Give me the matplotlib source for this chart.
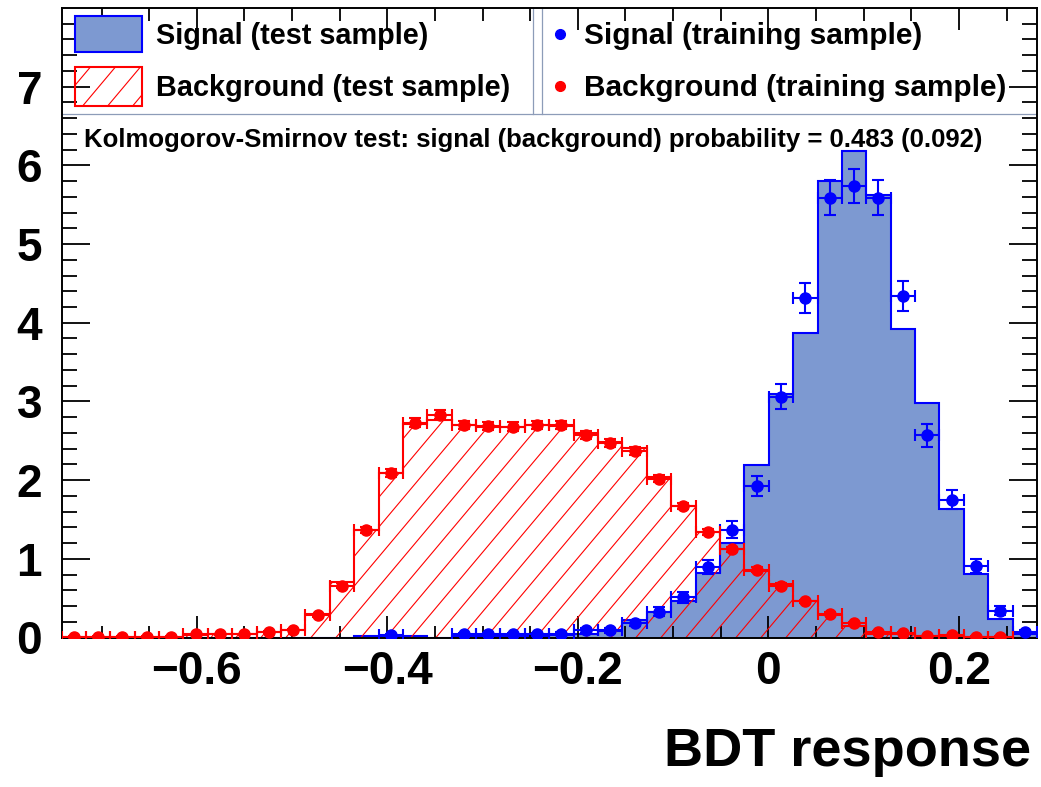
import numpy as np
import matplotlib
matplotlib.use("Agg")
import matplotlib.pyplot as plt
from matplotlib.collections import LineCollection
from matplotlib.patches import Rectangle
from matplotlib.lines import Line2D

plt.rcParams["font.family"] = ["Liberation Sans", "DejaVu Sans"]
plt.rcParams["font.weight"] = "bold"

# binning of the BDT output
xmin, xmax, nbins = -0.742, 0.282, 40

sig_test = [0, 0, 0, 0, 0, 0, 0, 0, 0, 0,
            0, 0, 0.02, 0.02, 0.02, 0, 0.02, 0.02, 0.02, 0.02,
            0.03, 0.05, 0.08, 0.22, 0.33, 0.47, 0.82, 1.20, 2.19, 3.10,
            3.87, 5.80, 6.18, 5.62, 3.92, 2.98, 1.63, 0.81, 0.23, 0.05]
sig_train = [np.nan] * 13 + [0.03, np.nan, np.nan, 0.04, 0.04, 0.04, 0.04,
             0.05, 0.09, 0.09, 0.18, 0.33, 0.51, 0.90, 1.37, 1.93, 3.06,
             4.31, 5.59, 5.74, 5.59, 4.34, 2.57, 1.75, 0.91, 0.34, 0.07]
sig_train_err = [0] * 13 + [0.016, 0, 0, 0.018, 0.018, 0.018, 0.018,
                 0.02, 0.028, 0.028, 0.04, 0.053, 0.066, 0.087, 0.108, 0.128, 0.161,
                 0.19, 0.218, 0.22, 0.218, 0.19, 0.147, 0.122, 0.088, 0.054, 0.024]

bkg_test = [0.01, 0.01, 0.01, 0.01, 0.01, 0.03, 0.04, 0.04, 0.07, 0.10,
            0.30, 0.70, 1.36, 2.09, 2.71, 2.77, 2.70, 2.68, 2.68, 2.70,
            2.69, 2.60, 2.49, 2.41, 2.04, 1.67, 1.34, 1.12, 0.85, 0.68,
            0.47, 0.28, 0.14, 0.05, 0.05, 0.02, 0.02, 0.01, 0.01, 0.0]
bkg_train = [0.01, 0.01, 0.01, 0.01, 0.01, 0.04, 0.04, 0.04, 0.07, 0.10,
             0.28, 0.66, 1.36, 2.09, 2.73, 2.83, 2.70, 2.69, 2.68, 2.70,
             2.70, 2.57, 2.47, 2.37, 2.02, 1.67, 1.34, 1.12, 0.86, 0.66,
             0.46, 0.30, 0.18, 0.07, 0.06, 0.02, 0.03, 0.01, 0.01, np.nan]
bkg_train_err = [0.003, 0.003, 0.003, 0.003, 0.003, 0.007, 0.007, 0.007, 0.009, 0.01,
                 0.018, 0.027, 0.038, 0.048, 0.055, 0.056, 0.054, 0.054, 0.054, 0.054,
                 0.054, 0.053, 0.052, 0.051, 0.047, 0.043, 0.038, 0.035, 0.031, 0.027,
                 0.022, 0.018, 0.014, 0.009, 0.008, 0.005, 0.006, 0.003, 0.003, 0]

xticks = [-0.6, -0.4, -0.2, 0.0, 0.2]
xtick_labels = ["\u22120.6", "\u22120.4", "\u22120.2", "0", "0.2"]
yticks = [0, 1, 2, 3, 4, 5, 6, 7]
ks_text = "Kolmogorov-Smirnov test: signal (background) probability = 0.483 (0.092)"

sig_fill = "#7d99d1"
sig_line = "#0000ff"
bkg_line = "#ff0000"
leg_line = "#8d9cb8"

# frame in pixels of the 1041x787 canvas
W, H = 1041, 787
L, R, T, B = 61.5, 1037, 8, 637.5


def axf(px, py):
    return (px - L) / (R - L), (B - py) / (B - T)


def hatch(ax, clip):
    # ROOT style single-direction hatching, ~50 deg, 25 px apart
    slope = 1.19 * (R - L) / (B - T)
    step = 25 / (R - L)
    segs = [[(x, 0), (x + 1 / slope, 1)] for x in np.arange(-1.0, 1.05, step)]
    lc = LineCollection(segs, colors=bkg_line, linewidths=0.8,
                        transform=ax.transAxes, zorder=2)
    ax.add_collection(lc, autolim=False)
    lc.set_clip_path(clip.get_path(), clip.get_transform())


edges = np.linspace(xmin, xmax, nbins + 1)
centers = 0.5 * (edges[:-1] + edges[1:])
halfw = 0.5 * (edges[1] - edges[0])

fig = plt.figure(figsize=(W / 100, H / 100), dpi=100)
ax = fig.add_axes([L / W, 1 - B / H, (R - L) / W, (B - T) / H])

ax.stairs(sig_test, edges, fill=True, facecolor=sig_fill, edgecolor=sig_line,
          linewidth=1.5, zorder=1)
bkg_patch = ax.stairs(bkg_test, edges, fill=True, facecolor="none",
                      edgecolor=bkg_line, linewidth=1.5, zorder=2.5)
hatch(ax, bkg_patch)

eb = dict(fmt="o", ms=8, capsize=4, elinewidth=1.5, capthick=1.5, zorder=3)
ax.errorbar(centers, sig_train, xerr=halfw, yerr=sig_train_err, color=sig_line, **eb)
ax.errorbar(centers, bkg_train, xerr=halfw, yerr=bkg_train_err, color=bkg_line, **eb)

ax.set_xlim(xmin, xmax)
ax.set_ylim(0, 8.0)
ax.set_xticks(xticks)
ax.set_xticklabels(xtick_labels)
ax.set_xticks(np.arange(-0.70, 0.28, 0.05), minor=True)
ax.set_yticks(yticks)
ax.set_yticks(np.arange(0, 8.0, 0.2), minor=True)
ax.tick_params(which="both", direction="in", top=True, right=True, width=1.3,
               labelsize=33)
ax.tick_params(axis="x", which="major", length=16, pad=9)
ax.tick_params(axis="x", which="minor", length=9)
ax.tick_params(axis="y", which="major", length=20, pad=14)
ax.tick_params(axis="y", which="minor", length=11)
for s in ax.spines.values():
    s.set_linewidth(1.4)

fig.text(1031 / W, 1 - 752 / H, "BDT response", ha="right", va="center",
         fontsize=39, fontweight="bold")

# legend boxes
for x in (533, 542):
    ax.add_line(Line2D([axf(x, 0)[0]] * 2, [axf(0, T)[1], axf(0, 114)[1]],
                       color=leg_line, lw=0.9, transform=ax.transAxes))
ax.add_line(Line2D([0, 1], [axf(0, 114)[1]] * 2, color=leg_line, lw=0.9,
                   transform=ax.transAxes))

x0, y0 = axf(75, 52)
x1, y1 = axf(142, 16)
ax.add_patch(Rectangle((x0, y0), x1 - x0, y1 - y0, transform=ax.transAxes,
                       facecolor=sig_fill, edgecolor=sig_line, lw=1.5, zorder=4))
x0, y0 = axf(75, 106)
x1, y1 = axf(142, 67)
box = Rectangle((x0, y0), x1 - x0, y1 - y0, transform=ax.transAxes,
                facecolor="none", edgecolor=bkg_line, lw=1.5, zorder=4)
ax.add_patch(box)
hatch(ax, box)

txt = dict(transform=ax.transAxes, fontweight="bold", va="center",
           ha="left", zorder=5)
ax.text(*axf(156, 36), "Signal (test sample)", fontsize=20.8, **txt)
ax.text(*axf(156, 88), "Background (test sample)", fontsize=20.8, **txt)
ax.plot(*axf(560, 34), "o", ms=7, color=sig_line, transform=ax.transAxes, zorder=5)
ax.plot(*axf(560, 86), "o", ms=7, color=bkg_line, transform=ax.transAxes, zorder=5)
ax.text(*axf(584, 36), "Signal (training sample)", fontsize=21.4, **txt)
ax.text(*axf(584, 88), "Background (training sample)", fontsize=21.4, **txt)

ax.text(*axf(84, 140), ks_text, transform=ax.transAxes, fontsize=18.5,
        fontweight="bold", va="center", ha="left", zorder=5)

fig.savefig("out.png", dpi=100)
